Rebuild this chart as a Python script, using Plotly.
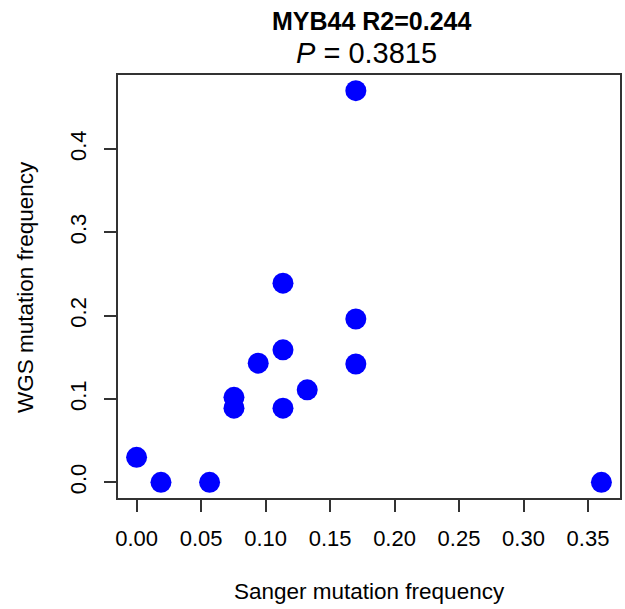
import plotly.graph_objects as go

# Data
sanger_freq = [0.0, 0.0189, 0.0566, 0.0755, 0.0755, 0.0943, 0.1135, 0.1135, 0.1135, 0.1323, 0.1700, 0.1700, 0.1700, 0.3604]
wgs_freq = [0.030, 0.0, 0.0, 0.102, 0.089, 0.143, 0.239, 0.159, 0.089, 0.111, 0.470, 0.196, 0.142, 0.0]

x_ticks = [0.00, 0.05, 0.10, 0.15, 0.20, 0.25, 0.30, 0.35]
x_tick_labels = ["0.00", "0.05", "0.10", "0.15", "0.20", "0.25", "0.30", "0.35"]
y_ticks = [0.0, 0.1, 0.2, 0.3, 0.4]
y_tick_labels = ["0.0", "0.1", "0.2", "0.3", "0.4"]

title_line1 = "<b>MYB44 R2=0.244</b>"
title_line2 = "<i>P</i> = 0.3815"
x_title = "Sanger mutation frequency"
y_title = "WGS mutation frequency"

FONT = "Arial, 'Liberation Sans', Helvetica, sans-serif"
AX = "#333333"

fig = go.Figure()
fig.add_trace(go.Scatter(
    x=sanger_freq, y=wgs_freq, mode="markers",
    marker=dict(color="#0000FF", size=21, line=dict(width=0)),
    showlegend=False, hoverinfo="x+y",
))

def rng(vals):
    lo, hi = min(vals), max(vals)
    d = (hi - lo) * 0.04
    return [lo - d, hi + d]

common = dict(showline=True, mirror=True, linecolor=AX, linewidth=1.5,
              ticks="outside", ticklen=12, tickwidth=1.5, tickcolor=AX,
              showgrid=False, zeroline=False,
              tickfont=dict(family=FONT, size=22, color="#000000"))

fig.update_xaxes(range=rng(sanger_freq), tickmode="array", tickvals=x_ticks,
                 ticktext=x_tick_labels, ticklabelstandoff=8, **common)
fig.update_yaxes(range=rng(wgs_freq), tickmode="array", tickvals=y_ticks,
                 ticktext=y_tick_labels, tickangle=-90, ticklabelstandoff=9, **common)

fig.update_layout(
    width=625, height=609,
    margin=dict(l=118, r=3, t=75, b=111),
    paper_bgcolor="white", plot_bgcolor="white",
    font=dict(family=FONT, color="#000000"),
    annotations=[
        dict(text=title_line1, xref="paper", yref="paper", x=0.505, y=1.127,
             xanchor="center", yanchor="middle", showarrow=False,
             font=dict(family=FONT, size=25, color="#000000")),
        dict(text=title_line2, xref="paper", yref="paper", x=0.495, y=1.052,
             xanchor="center", yanchor="middle", showarrow=False,
             font=dict(family=FONT, size=29, color="#000000")),
        dict(text=x_title, xref="paper", yref="paper", x=0.5, y=-0.221,
             xanchor="center", yanchor="middle", showarrow=False,
             font=dict(family=FONT, size=22.5, color="#000000")),
        dict(text=y_title, xref="paper", yref="paper", x=-0.183, y=0.499,
             xanchor="center", yanchor="middle", showarrow=False, textangle=-90,
             font=dict(family=FONT, size=22.5, color="#000000")),
    ],
)

fig.write_html("out.html")
